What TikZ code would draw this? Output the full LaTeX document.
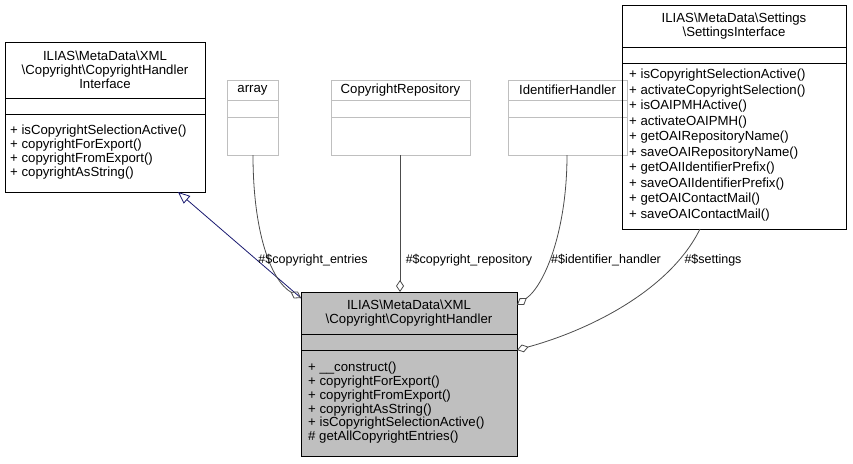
\documentclass[tikz,border=0pt]{standalone}
\usepackage{fontspec}
\setmainfont{Liberation Sans}
\usetikzlibrary{arrows.meta}
\definecolor{lg}{HTML}{BFBFBF}
\definecolor{navy}{HTML}{191970}
\begin{document}
\begin{tikzpicture}[x=1pt,y=-1pt,
  box/.style={draw=black,line width=0.8pt,anchor=north west,inner sep=0},
  gbox/.style={box,draw=lg},
  txt/.style={inner sep=0,font=\fontsize{13.2}{14}\selectfont,align=center},
  mtxt/.style={inner sep=0,anchor=north west,align=left},
  lbl/.style={inner sep=0,font=\fontsize{12.5}{14}\selectfont},
  edge/.style={draw=black!70,line width=0.8pt},
  agg/.style={edge,-{Diamond[open,length=12pt,width=8pt]}}]
\useasboundingbox (0,0) rectangle (853,463);
% interface
\node[box,minimum width=200,minimum height=150] (iface) at (5,42) {};
\draw[line width=0.8pt] (5,98) -- (205,98) (5,114) -- (205,114);
\node[txt] (ifacet) at (105,70) {ILIAS\textbackslash MetaData\textbackslash XML\\\textbackslash Copyright\textbackslash CopyrightHandler\\Interface};
\node[mtxt,font=\fontsize{13.2}{14}\selectfont] (ifacem) at (10,125) {+ isCopyrightSelectionActive()\\+ copyrightForExport()\\+ copyrightFromExport()\\+ copyrightAsString()};
% array
\node[gbox,minimum width=51,minimum height=75] (arr) at (227,80) {};
\draw[lg,line width=0.8pt] (227,100) -- (278,100) (227,117) -- (278,117);
\node[txt] (arrt) at (252.5,90) {array};
% repository
\node[gbox,minimum width=139,minimum height=75] (repo) at (331,80) {};
\draw[lg,line width=0.8pt] (331,100) -- (470,100) (331,117) -- (470,117);
\node[txt] (repot) at (400.5,90) {CopyrightRepository};
% identifier
\node[gbox,minimum width=119,minimum height=75] (ident) at (508,80) {};
\draw[lg,line width=0.8pt] (508,100) -- (627,100) (508,117) -- (627,117);
\node[txt] (identt) at (567.5,90) {IdentifierHandler};
% settings
\node[box,minimum width=224,minimum height=224] (set) at (622,5) {};
\draw[line width=0.8pt] (622,47) -- (846,47) (622,63) -- (846,63);
\node[txt] (sett) at (734,26) {ILIAS\textbackslash MetaData\textbackslash Settings\\\textbackslash SettingsInterface};
\node[mtxt,font=\fontsize{13.2}{15.5}\selectfont] (setm) at (629,69) {+ isCopyrightSelectionActive()\\+ activateCopyrightSelection()\\+ isOAIPMHActive()\\+ activateOAIPMH()\\+ getOAIRepositoryName()\\+ saveOAIRepositoryName()\\+ getOAIIdentifierPrefix()\\+ saveOAIIdentifierPrefix()\\+ getOAIContactMail()\\+ saveOAIContactMail()};
% handler
\node[box,fill=lg,minimum width=216,minimum height=164] (hand) at (301,292) {};
\draw[line width=0.8pt] (301,334) -- (517,334) (301,350) -- (517,350);
\node[txt] (handt) at (409,313) {ILIAS\textbackslash MetaData\textbackslash XML\\\textbackslash Copyright\textbackslash CopyrightHandler};
\node[mtxt,font=\fontsize{13.2}{13.8}\selectfont] (handm) at (308,362) {+ \_\_construct()\\+ copyrightForExport()\\+ copyrightFromExport()\\+ copyrightAsString()\\+ isCopyrightSelectionActive()\\\# getAllCopyrightEntries()};
% edges
\coordinate (hA) at (301,298);
\draw[draw=navy,line width=0.8pt,-{Triangle[open,length=12pt,width=10pt]}] (hA) -- (178,192);
\draw[agg] (253,155) .. controls (253,230) and (270,280) .. (301,298);
\node[lbl] (l1) at (313,260) {\#\$copyright\_entries};
\draw[agg] (400,155) -- (400,292);
\node[lbl] (l2) at (469,260) {\#\$copyright\_repository};
\draw[agg] (567,155) .. controls (567,230) and (545,285) .. (517,305);
\node[lbl] (l3) at (606,260) {\#\$identifier\_handler};
\draw[agg] (700,229) .. controls (670,290) and (590,330) .. (517,350);
\node[lbl] (l4) at (713,260) {\#\$settings};
\end{tikzpicture}
\end{document}
